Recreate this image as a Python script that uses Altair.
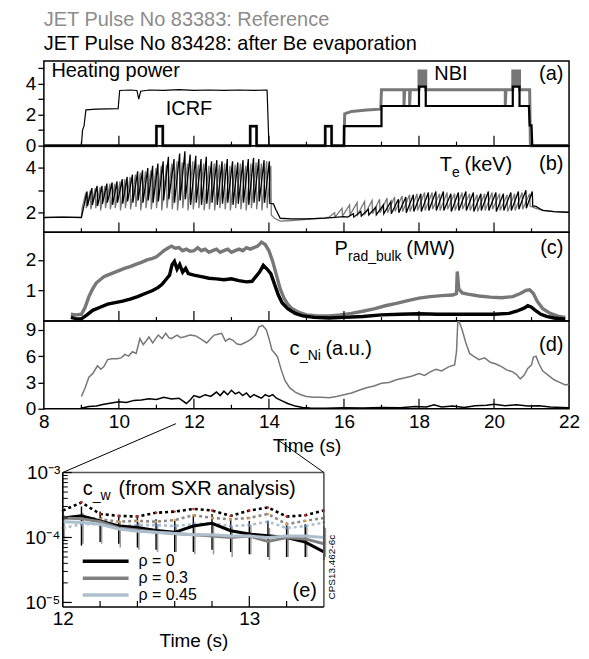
import altair as alt
import pandas as pd

FONT = "Liberation Sans"
GRAY = "#777777"
TITLE_GRAY = "#8c8c8c"
LIGHT = "#adbfcc"

# ---------------- data ----------------
title_ref = "JET Pulse No 83383: Reference"
title_be = "JET Pulse No 83428: after Be evaporation"

x_labels = [8, 10, 12, 14, 16, 18, 20, 22]
x_ticks_major = [10, 12, 14, 16, 18, 20]
x_ticks_minor = [9, 11, 13, 15, 17, 19, 21]

# (a) heating power (MW)
icrf = [(8.0, 0.0), (9.0, 0.0), (9.03, 1.0), (9.07, 1.25), (9.12, 2.3), (9.4, 2.35), (9.98, 2.38),
        (10.02, 3.55), (10.3, 3.58), (10.48, 3.55), (10.53, 3.0), (10.58, 3.5), (10.8, 3.58),
        (11.2, 3.55), (11.6, 3.6), (12.0, 3.55), (12.4, 3.58), (12.8, 3.55), (13.2, 3.58),
        (13.6, 3.55), (13.95, 3.58), (14.0, 0.0), (22.0, 0.0)]
nbi_be = [(8.0, 0), (11.0, 0), (11.0, 1.25), (11.17, 1.25), (11.17, 0), (13.5, 0), (13.5, 1.25),
          (13.67, 1.25), (13.67, 0), (15.5, 0), (15.5, 1.25), (15.67, 1.25), (15.67, 0), (16.0, 0),
          (16.0, 1.25), (17.0, 1.25), (17.0, 2.55), (18.0, 2.55), (18.0, 3.8), (18.18, 3.8),
          (18.18, 2.55), (20.5, 2.55), (20.5, 3.8), (20.68, 3.8), (20.68, 2.55), (20.93, 2.55),
          (20.95, 1.3), (21.0, 1.3), (21.02, 0), (22.0, 0)]
nbi_ref = [(8.0, 0), (11.0, 0), (11.0, 1.25), (11.17, 1.25), (11.17, 0), (13.5, 0), (13.5, 1.25),
           (13.67, 1.25), (13.67, 0), (15.5, 0), (15.5, 1.25), (15.67, 1.25), (15.67, 0), (16.0, 0),
           (16.02, 2.05), (16.2, 2.2), (16.6, 2.3), (16.98, 2.35), (17.0, 3.6), (17.6, 3.6),
           (17.6, 2.6), (17.62, 3.6), (17.75, 3.6), (17.75, 2.6), (17.77, 3.6), (18.0, 3.6),
           (18.0, 4.8), (18.05, 4.8), (18.05, 3.9), (18.12, 3.9), (18.12, 4.8), (18.18, 4.8),
           (18.18, 3.6), (20.3, 3.6), (20.3, 2.6), (20.32, 3.6), (20.5, 3.6), (20.5, 4.8),
           (20.55, 4.8), (20.55, 3.9), (20.62, 3.9), (20.62, 4.8), (20.68, 4.8), (20.68, 3.6),
           (20.95, 3.6), (20.97, 0), (22.0, 0)]

# (b) Te (keV): sawtooth crash times, values just before and just after each crash
te_be_start = [(8.0, 1.78), (8.5, 1.8), (9.0, 1.78), (9.03, 2.0)]
te_be_crash1 = [9.15, 9.28, 9.42, 9.55, 9.68, 9.82, 9.95, 10.09, 10.22, 10.36, 10.50, 10.63, 10.77,
                10.90, 11.04, 11.18, 11.32, 11.47, 11.62, 11.76, 11.90, 12.05, 12.19, 12.33, 12.47,
                12.61, 12.75, 12.89, 13.03, 13.17, 13.31, 13.45, 13.59, 13.73, 13.87, 14.01]
te_be_peak1 = [2.95, 3.1, 3.2, 3.2, 3.3, 3.35, 3.4, 3.5, 3.6, 3.7, 3.85, 3.9, 4.0, 4.1, 4.2, 4.3,
               4.5, 4.4, 4.65, 4.75, 4.6, 4.55, 4.4, 4.5, 4.3, 4.35, 4.3, 4.4, 4.3, 4.25, 4.35,
               4.4, 4.45, 4.4, 4.35, 4.3]
te_be_trough1 = [2.3, 2.35, 2.3, 2.4, 2.45, 2.35, 2.45, 2.4, 2.5, 2.45, 2.55, 2.45, 2.55, 2.45,
                 2.5, 2.55, 2.6, 2.45, 2.55, 2.6, 2.35, 2.45, 2.35, 2.4, 2.45, 2.35, 2.4, 2.45,
                 2.35, 2.4, 2.45, 2.35, 2.45, 2.5, 2.45, 2.42]
te_be_mid = [(14.12, 2.4), (14.18, 2.15), (14.3, 1.75), (14.6, 1.72), (15.0, 1.72), (15.5, 1.76),
             (16.0, 1.82), (16.1, 1.8)]
te_be_crash2 = [16.25, 16.45, 16.65, 16.85, 17.05, 17.25, 17.45, 17.65, 17.85, 18.05, 18.25, 18.45,
                18.65, 18.85, 19.05, 19.25, 19.45, 19.65, 19.85, 20.05, 20.25, 20.45, 20.65, 20.85,
                21.02]
te_be_peak2 = [1.95, 2.05, 2.15, 2.25, 2.35, 2.5, 2.6, 2.7, 2.8, 2.85, 2.9, 2.95, 2.95, 2.85, 2.9,
               2.95, 2.9, 2.85, 2.95, 2.9, 2.85, 2.9, 2.95, 3.0, 2.95]
te_be_trough2 = [1.8, 1.85, 1.9, 1.9, 1.95, 1.95, 2.0, 2.0, 2.05, 2.05, 2.1, 2.1, 2.1, 2.05, 2.1,
                 2.1, 2.05, 2.1, 2.1, 2.05, 2.1, 2.1, 2.15, 2.2, 2.3]
te_be_end = [(21.12, 2.28), (21.3, 2.1), (21.6, 2.05), (22.0, 2.02)]

te_ref_start = [(8.0, 1.8), (9.0, 1.8), (9.02, 2.2)]
te_ref_crash1 = [9.12, 9.24, 9.37, 9.50, 9.63, 9.76, 9.89, 10.03, 10.16, 10.30, 10.44, 10.57,
                 10.71, 10.85, 10.99, 11.13, 11.27, 11.41, 11.55, 11.69, 11.83, 11.97, 12.12,
                 12.26, 12.40, 12.54, 12.68, 12.82, 12.96, 13.10, 13.24, 13.38, 13.52, 13.66,
                 13.80, 13.94, 14.05]
te_ref_peak1 = [2.9, 3.0, 3.1, 3.15, 3.2, 3.3, 3.3, 3.4, 3.5, 3.6, 3.7, 3.8, 3.85, 3.9, 4.0, 4.1,
                4.15, 4.2, 4.3, 4.25, 4.2, 4.3, 4.15, 4.2, 4.1, 4.2, 4.15, 4.2, 4.1, 4.15, 4.2,
                4.1, 4.2, 4.25, 4.2, 4.3, 4.1]
te_ref_trough1 = [2.2, 2.15, 2.2, 2.1, 2.2, 2.15, 2.2, 2.1, 2.2, 2.15, 2.25, 2.1, 2.2, 2.15, 2.2,
                  2.1, 2.2, 2.15, 2.1, 2.2, 2.1, 2.15, 2.2, 2.1, 2.15, 2.1, 2.2, 2.15, 2.1, 2.2,
                  2.15, 2.1, 2.2, 2.15, 2.1, 2.2, 1.9]
te_ref_mid = [(14.15, 1.75), (14.3, 1.62), (14.6, 1.65), (15.0, 1.7), (15.4, 1.75), (15.6, 1.8)]
te_ref_crash2 = [15.75, 15.95, 16.15, 16.35, 16.55, 16.75, 16.95, 17.15, 17.35, 17.55, 17.75,
                 17.95, 18.15, 18.35, 18.55, 18.75, 18.95, 19.15, 19.35, 19.55, 19.75, 19.95,
                 20.15, 20.35, 20.55, 20.75, 20.95]
te_ref_peak2 = [2.0, 2.2, 2.35, 2.45, 2.5, 2.55, 2.6, 2.65, 2.7, 2.75, 2.8, 2.85, 2.9, 2.9, 2.85,
                2.9, 2.85, 2.9, 2.85, 2.8, 2.85, 2.9, 2.85, 2.8, 2.85, 2.9, 2.85]
te_ref_trough2 = [1.8, 1.85, 1.9, 1.9, 1.95, 1.95, 2.0, 2.0, 2.05, 2.05, 2.05, 2.1, 2.1, 2.15,
                  2.1, 2.15, 2.1, 2.15, 2.1, 2.05, 2.1, 2.15, 2.1, 2.05, 2.1, 2.15, 2.3]
te_ref_end = [(21.1, 2.2), (21.3, 2.1), (21.6, 2.05), (22.0, 2.0)]

# (c) Prad_bulk (MW)
prad_ref = [(8.72, 0.22), (8.85, 0.2), (9.0, 0.22), (9.1, 0.45), (9.2, 0.8), (9.3, 1.05),
            (9.4, 1.25), (9.5, 1.35), (9.6, 1.45), (9.7, 1.5), (9.8, 1.55), (9.9, 1.6), (10.0, 1.65),
            (10.15, 1.72), (10.3, 1.78), (10.45, 1.85), (10.6, 1.92), (10.75, 2.0), (10.9, 2.05),
            (11.0, 2.1), (11.1, 2.2), (11.2, 2.3), (11.3, 2.38), (11.4, 2.45), (11.5, 2.38),
            (11.6, 2.4), (11.7, 2.3), (11.8, 2.35), (11.9, 2.28), (12.0, 2.3), (12.1, 2.4),
            (12.2, 2.3), (12.3, 2.35), (12.4, 2.25), (12.5, 2.3), (12.6, 2.35), (12.7, 2.25),
            (12.8, 2.3), (12.9, 2.35), (13.0, 2.25), (13.1, 2.3), (13.2, 2.35), (13.3, 2.3),
            (13.4, 2.4), (13.5, 2.35), (13.6, 2.4), (13.7, 2.45), (13.8, 2.58), (13.9, 2.5),
            (14.0, 2.3), (14.1, 1.95), (14.2, 1.5), (14.3, 1.05), (14.4, 0.75), (14.5, 0.55),
            (14.6, 0.42), (14.8, 0.28), (15.0, 0.2), (15.3, 0.17), (15.6, 0.17), (15.9, 0.2),
            (16.2, 0.25), (16.5, 0.32), (16.8, 0.4), (17.1, 0.5), (17.4, 0.58), (17.7, 0.67),
            (18.0, 0.75), (18.3, 0.8), (18.6, 0.83), (18.9, 0.85), (19.0, 0.9), (19.02, 1.62),
            (19.06, 1.05), (19.15, 0.92), (19.3, 0.88), (19.6, 0.82), (19.9, 0.78), (20.2, 0.76),
            (20.5, 0.8), (20.7, 0.9), (20.85, 1.0), (20.95, 1.02), (21.05, 0.9), (21.15, 0.65),
            (21.3, 0.4), (21.5, 0.25), (21.7, 0.16), (21.9, 0.12)]
prad_be = [(8.72, 0.12), (8.85, 0.08), (9.0, 0.07), (9.15, 0.2), (9.3, 0.35), (9.5, 0.45),
           (9.7, 0.55), (9.9, 0.6), (10.1, 0.65), (10.3, 0.72), (10.5, 0.8), (10.7, 0.9),
           (10.9, 1.0), (11.05, 1.1), (11.15, 1.2), (11.25, 1.35), (11.35, 1.5), (11.42, 1.85),
           (11.48, 1.95), (11.55, 1.7), (11.62, 1.85), (11.7, 1.6), (11.78, 1.72), (11.85, 1.55),
           (12.0, 1.5), (12.2, 1.45), (12.4, 1.4), (12.6, 1.38), (12.8, 1.35), (13.0, 1.38),
           (13.2, 1.32), (13.4, 1.28), (13.55, 1.3), (13.65, 1.45), (13.75, 1.6), (13.85, 1.82),
           (13.95, 1.7), (14.05, 1.55), (14.15, 1.2), (14.25, 0.85), (14.35, 0.6), (14.5, 0.4),
           (14.7, 0.25), (14.9, 0.17), (15.2, 0.12), (15.6, 0.1), (16.0, 0.12), (16.5, 0.15),
           (17.0, 0.2), (17.5, 0.22), (18.0, 0.24), (18.5, 0.22), (19.0, 0.22), (19.5, 0.22),
           (20.0, 0.22), (20.4, 0.25), (20.6, 0.32), (20.8, 0.42), (20.9, 0.5), (21.0, 0.45),
           (21.1, 0.35), (21.25, 0.22), (21.4, 0.15), (21.6, 0.1), (21.9, 0.06)]

# (d) c_Ni (a.u.)
cni_ref = [(9.0, 1.4), (9.1, 2.4), (9.2, 3.6), (9.3, 4.0), (9.43, 4.9), (9.52, 4.5), (9.6, 4.8),
           (9.7, 5.6), (9.81, 5.7), (9.95, 5.7), (10.06, 5.8), (10.16, 6.2), (10.26, 6.0),
           (10.36, 6.5), (10.46, 6.3), (10.56, 8.0), (10.65, 7.3), (10.72, 7.7), (10.8, 8.2),
           (10.9, 7.5), (10.98, 8.0), (11.05, 8.4), (11.15, 8.0), (11.25, 8.6), (11.33, 8.1),
           (11.4, 8.0), (11.55, 8.4), (11.65, 8.1), (11.75, 8.2), (11.9, 8.4), (12.05, 8.3),
           (12.2, 7.9), (12.34, 7.5), (12.45, 8.0), (12.54, 8.4), (12.64, 8.5), (12.74, 8.6),
           (12.84, 7.7), (12.94, 8.0), (13.04, 7.8), (13.14, 7.4), (13.24, 7.3), (13.34, 7.5),
           (13.44, 7.7), (13.54, 8.0), (13.64, 8.4), (13.73, 9.3), (13.83, 9.5), (13.93, 9.0),
           (14.0, 8.0), (14.08, 6.7), (14.16, 6.3), (14.23, 5.9), (14.33, 4.4), (14.43, 3.2),
           (14.55, 2.4), (14.7, 1.9), (14.85, 1.6), (15.0, 1.4), (15.2, 1.3), (15.4, 1.3),
           (15.6, 1.25), (15.8, 1.4), (16.0, 1.6), (16.2, 1.8), (16.4, 2.1), (16.6, 2.4),
           (16.8, 2.6), (17.0, 2.9), (17.2, 3.0), (17.4, 3.3), (17.6, 3.5), (17.8, 3.7),
           (18.0, 4.0), (18.15, 3.8), (18.3, 4.2), (18.45, 4.5), (18.6, 4.3), (18.8, 4.8),
           (18.95, 5.0), (19.0, 6.5), (19.04, 10.5), (19.08, 9.8), (19.15, 9.0), (19.25, 7.5),
           (19.35, 6.3), (19.45, 6.0), (19.6, 5.6), (19.75, 5.8), (19.9, 5.3), (20.05, 5.1),
           (20.2, 4.8), (20.35, 4.4), (20.5, 4.2), (20.6, 3.9), (20.7, 3.4), (20.8, 3.8),
           (20.9, 4.6), (21.0, 5.0), (21.05, 5.9), (21.12, 6.0), (21.2, 5.1), (21.3, 4.3),
           (21.45, 3.8), (21.6, 3.3), (21.75, 3.0), (21.9, 2.7), (22.0, 2.8)]
cni_be = [(8.98, 0.05), (9.2, 0.25), (9.4, 0.3), (9.6, 0.5), (9.8, 0.65), (10.0, 0.8), (10.2, 0.7),
          (10.4, 0.95), (10.6, 1.0), (10.8, 1.15), (11.0, 1.05), (11.2, 1.3), (11.4, 1.1),
          (11.6, 1.2), (11.8, 0.6), (11.9, 1.0), (12.0, 1.5), (12.15, 1.3), (12.3, 1.6),
          (12.45, 1.4), (12.6, 1.9), (12.7, 1.5), (12.8, 2.0), (12.9, 1.6), (13.0, 2.1),
          (13.1, 1.7), (13.2, 1.9), (13.3, 1.5), (13.4, 1.8), (13.5, 1.3), (13.6, 1.6),
          (13.7, 1.4), (13.8, 1.2), (13.9, 1.6), (14.0, 1.4), (14.1, 1.6), (14.2, 1.2),
          (14.35, 0.9), (14.5, 0.6), (14.7, 0.3), (14.9, 0.15), (15.1, 0.08), (15.5, 0.05),
          (16.0, 0.1), (16.5, 0.08), (17.0, 0.15), (17.5, 0.12), (17.9, 0.25), (18.2, 0.2),
          (18.4, 0.45), (18.6, 0.2), (18.9, 0.3), (19.2, 0.15), (19.5, 0.35), (19.8, 0.4),
          (20.0, 0.5), (20.3, 0.35), (20.6, 0.45), (20.9, 0.3), (21.2, 0.35), (21.5, 0.2),
          (21.8, 0.15), (22.0, 0.1)]

# (e) c_W from SXR analysis
cw_t = [12.0, 12.1, 12.2, 12.3, 12.4, 12.5, 12.6, 12.7, 12.8, 12.9, 13.0, 13.1, 13.2, 13.3, 13.4]
cw_rho0 = [2.0e-4, 2.15e-4, 1.8e-4, 1.5e-4, 1.42e-4, 1.28e-4, 1.2e-4, 1.5e-4, 1.65e-4, 1.27e-4,
           1.13e-4, 1.06e-4, 1.0e-4, 0.85e-4, 0.6e-4]
cw_rho03 = [2.0e-4, 1.95e-4, 1.75e-4, 1.4e-4, 1.3e-4, 1.2e-4, 1.15e-4, 1.1e-4, 1.05e-4, 1.0e-4,
            1.05e-4, 0.87e-4, 1.0e-4, 0.95e-4, 0.8e-4]
cw_rho045 = [1.75e-4, 1.7e-4, 1.6e-4, 1.35e-4, 1.25e-4, 1.2e-4, 1.15e-4, 1.1e-4, 1.1e-4, 1.05e-4,
             1.05e-4, 1.0e-4, 1.05e-4, 1.05e-4, 1.0e-4]
cw_rho0_dot = [2.6e-4, 3.45e-4, 2.3e-4, 2.15e-4, 2.1e-4, 2.4e-4, 2.5e-4, 2.75e-4, 2.6e-4, 2.15e-4,
               2.6e-4, 2.9e-4, 2.1e-4, 2.2e-4, 2.6e-4]
cw_rho03_dot = [2.0e-4, 2.1e-4, 1.9e-4, 1.75e-4, 1.8e-4, 1.75e-4, 1.85e-4, 2.2e-4, 2.0e-4, 1.9e-4,
                2.0e-4, 2.3e-4, 1.6e-4, 1.8e-4, 2.0e-4]
cw_rho045_dot = [1.4e-4, 1.6e-4, 1.6e-4, 1.5e-4, 1.55e-4, 1.55e-4, 1.5e-4, 1.6e-4, 1.65e-4, 1.5e-4,
                 1.55e-4, 1.75e-4, 1.4e-4, 1.5e-4, 1.7e-4]
cw_err_lo = [1.0e-4, 0.75e-4, 0.85e-4, 0.8e-4, 0.7e-4, 0.65e-4, 0.6e-4, 0.6e-4, 0.65e-4, 0.6e-4,
             0.55e-4, 0.5e-4, 0.5e-4, 0.5e-4, 0.45e-4]
cw_err_hi = [2.6e-4, 3.0e-4, 2.5e-4, 2.1e-4, 2.0e-4, 1.9e-4, 1.8e-4, 2.2e-4, 2.3e-4, 1.9e-4,
             1.8e-4, 1.7e-4, 1.7e-4, 1.6e-4, 1.5e-4]
cw_err2_lo = [0.9e-4, 0.8e-4, 0.8e-4, 0.7e-4, 0.65e-4, 0.6e-4, 0.6e-4, 0.55e-4, 0.55e-4, 0.5e-4,
              0.55e-4, 0.45e-4, 0.5e-4, 0.5e-4, 0.5e-4]
cw_err2_hi = [2.2e-4, 2.4e-4, 2.1e-4, 1.8e-4, 1.7e-4, 1.6e-4, 1.6e-4, 1.7e-4, 1.6e-4, 1.5e-4,
              1.55e-4, 1.4e-4, 1.5e-4, 1.45e-4, 1.4e-4]
cw_log_ticks = [1e-5, 2e-5, 3e-5, 4e-5, 5e-5, 6e-5, 7e-5, 8e-5, 9e-5,
                1e-4, 2e-4, 3e-4, 4e-4, 5e-4, 6e-4, 7e-4, 8e-4, 9e-4, 1e-3]
cw_decades = [1e-5, 1e-4, 1e-3]
cw_x_labels = [12, 13]
cw_x_ticks_minor = [12.2, 12.4, 12.6, 12.8, 13.2]
cw_x_ticks_major = [13.0]
rho_labels = ["ρ = 0", "ρ = 0.3", "ρ = 0.45"]
cps_label = "CPS13.462-6c"

# ---------------- layout (pixels) ----------------
W = 527
H_A, H_B, H_C, H_D = 85, 87, 89, 88
MAIN_LEFT = 43
MAIN_BOTTOM_Y = 59 + H_A + H_B + H_C + H_D      # page y of the bottom of panel (d)
INSET_L, INSET_R = 19, 281                      # inset frame inside the inset view
INSET_T, INSET_B = 64, 199
WI_VIEW, HI_VIEW = 281, 199


def sawtooth(start, crash, peaks, troughs, after):
    pts = list(start)
    for t, p, tr in zip(crash, peaks, troughs):
        pts.append((t, p))
        pts.append((t + 0.012, tr))
    return pts + list(after)


te_be = sawtooth(te_be_start, te_be_crash1, te_be_peak1, te_be_trough1, [])
te_be = sawtooth(te_be + te_be_mid, te_be_crash2, te_be_peak2, te_be_trough2, te_be_end)
te_ref = sawtooth(te_ref_start, te_ref_crash1, te_ref_peak1, te_ref_trough1, [])
te_ref = sawtooth(te_ref + te_ref_mid, te_ref_crash2, te_ref_peak2, te_ref_trough2, te_ref_end)


def pairs_df(pairs):
    return pd.DataFrame({"t": [p[0] for p in pairs], "v": [p[1] for p in pairs],
                         "i": list(range(len(pairs)))})


xscale = alt.Scale(domain=[8, 22], nice=False, zero=False)


def y_axis(vals, labelled):
    return alt.Axis(values=vals, labelExpr=f"indexof({labelled}, datum.value) >= 0 ? datum.label : ''",
                    tickSize=6, tickWidth=1.3, tickColor="black", labelFontSize=19, labelPadding=2,
                    labelColor="black", domain=False, grid=False, title=None, labelOverlap=False,
                    minExtent=35, maxExtent=35, labelFont=FONT)


def make_panel(height, ydom, yvals, ylabelled, series, texts, bottom=False):
    ys = alt.Scale(domain=ydom, nice=False, zero=False)
    if bottom:
        xax = alt.Axis(values=x_labels, ticks=False, domain=False, grid=False, labelFontSize=19,
                       labelPadding=4, labelFlush=False, labelOverlap=False, labelColor="black",
                       title="Time (s)", titleFontSize=19, titleFontWeight="normal", titlePadding=5,
                       titleColor="black", labelFont=FONT, titleFont=FONT)
    else:
        xax = None
    X = alt.X("t:Q", scale=xscale, axis=xax)
    Y = alt.Y("v:Q", scale=ys, axis=y_axis(yvals, ylabelled))
    layers = []
    for pairs, color, width, clip in series:
        layers.append(alt.Chart(pairs_df(pairs)).mark_line(color=color, strokeWidth=width, clip=clip)
                      .encode(x=X, y=Y, order="i:Q"))
    tdf_major = pd.DataFrame({"t": x_ticks_major})
    tdf_minor = pd.DataFrame({"t": x_ticks_minor})
    layers.append(alt.Chart(tdf_major).mark_rule(color="black", strokeWidth=1.2)
                  .encode(x=X, y=alt.value(height), y2=alt.value(height - 10)))
    layers.append(alt.Chart(tdf_minor).mark_rule(color="black", strokeWidth=1.2)
                  .encode(x=X, y=alt.value(height), y2=alt.value(height - 4)))
    for txt, t, v, align, dx, dy, size in texts:
        d = pd.DataFrame({"t": [t], "v": [v], "s": [txt]})
        layers.append(alt.Chart(d).mark_text(align=align, baseline="alphabetic", dx=dx, dy=dy,
                                             fontSize=size, color="black", font=FONT)
                      .encode(x=X, y=Y, text="s:N"))
    return alt.layer(*layers).properties(width=W, height=height)


panel_a = make_panel(
    H_A, [0, 5.45], [0, 1, 2, 3, 4, 5], [0, 2, 4],
    [(nbi_ref, GRAY, 3, False), (nbi_be, "black", 2.2, False), (icrf, "black", 1.2, False)],
    [("Heating power", 8.2, 4.43, "left", 0, 0, 20), ("ICRF", 11.87, 2.0, "center", 0, 0, 20),
     ("NBI", 18.85, 4.25, "center", 0, 0, 20), ("(a)", 21.85, 4.25, "right", 0, 0, 20)],
).properties(title=alt.TitleParams(text=title_ref, subtitle=title_be, anchor="start",
                                   color=TITLE_GRAY, subtitleColor="black", fontSize=20,
                                   subtitleFontSize=20, font=FONT, subtitleFont=FONT,
                                   fontWeight="normal", subtitleFontWeight="normal",
                                   subtitlePadding=4, offset=5, frame="group"))

panel_b = make_panel(
    H_B, [1.12, 5.0], [2, 3, 4], [2, 4],
    [(te_ref, GRAY, 1.3, False), (te_be, "black", 1.3, False)],
    [("T", 18.55, 3.85, "left", 0, 0, 20), ("e", 18.55, 3.85, "left", 12.5, 6, 14),
     ("(keV)", 18.55, 3.85, "left", 25, 0, 20), ("(b)", 21.85, 3.9, "right", 0, 0, 20)],
)

panel_c = make_panel(
    H_C, [0, 2.9], [1, 2], [1, 2],
    [(prad_ref, GRAY, 3.4, False), (prad_be, "black", 3.4, False)],
    [("P", 15.75, 2.15, "left", 0, 0, 20), ("rad_bulk", 15.75, 2.15, "left", 13.5, 6, 14),
     ("(MW)", 15.75, 2.15, "left", 72, 0, 20), ("(c)", 21.85, 2.18, "right", 0, 0, 20)],
)

panel_d = make_panel(
    H_D, [0, 10], [0, 3, 6, 9], [0, 3, 6, 9],
    [(cni_ref, GRAY, 1.5, True), (cni_be, "black", 1.5, False)],
    [("c", 14.55, 6.1, "left", 0, 0, 20), ("_Ni", 14.55, 6.1, "left", 10.5, 5, 14),
     ("(a.u.)", 14.55, 6.1, "left", 36, 0, 20), ("(d)", 21.85, 6.6, "right", 0, 0, 20)],
    bottom=True,
)

# ---------------- inset (e) ----------------
xs_i = alt.Scale(domain=[12, 13.4], range=[INSET_L, INSET_R], nice=False, zero=False)
ys_i = alt.Scale(type="log", domain=[8.5e-6, 1e-3], range=[INSET_B, INSET_T], nice=False)
log_label = ("abs(log(datum.value)/LN10 + 3) < 0.01 ? '10⁻³' : "
             "abs(log(datum.value)/LN10 + 4) < 0.01 ? '10⁻⁴' : "
             "abs(log(datum.value)/LN10 + 5) < 0.01 ? '10⁻⁵' : ''")
XI = alt.X("t:Q", scale=xs_i, axis=alt.Axis(values=cw_x_labels, format="d", ticks=False,
                                           domain=False, grid=False,
                                           labelFontSize=19, labelPadding=3, labelFlush=False,
                                           labelColor="black", title="Time (s)", titleFontSize=19,
                                           titleFontWeight="normal", titlePadding=3,
                                           titleColor="black", labelFont=FONT, titleFont=FONT))
YI = alt.Y("v:Q", scale=ys_i, axis=alt.Axis(values=cw_log_ticks, labelExpr=log_label, ticks=False,
                                           domain=False, grid=False, labelFontSize=19,
                                           labelPadding=3, labelColor="black", title=None,
                                           labelOverlap=False, offset=-INSET_L, labelFont=FONT))


def cw_df(vals, shift=0.0):
    return pd.DataFrame({"t": [t + shift for t in cw_t], "v": vals})


one = pd.DataFrame({"k": [0]})
inset_layers = []
inset_layers.append(alt.Chart(pd.DataFrame({"t": [t + 0.008 for t in cw_t], "v": cw_err2_lo,
                                            "v2": cw_err2_hi}))
                    .mark_rule(color="#9a9a9a", strokeWidth=1.6)
                    .encode(x=XI, y=YI, y2="v2:Q"))
inset_layers.append(alt.Chart(pd.DataFrame({"t": cw_t, "v": cw_err_lo, "v2": cw_err_hi}))
                    .mark_rule(color="black", strokeWidth=1.4)
                    .encode(x=XI, y=YI, y2="v2:Q"))
for vals, color in [(cw_rho045_dot, LIGHT), (cw_rho03_dot, "#8a8a8a"), (cw_rho0_dot, "black")]:
    inset_layers.append(alt.Chart(cw_df(vals)).mark_line(color=color, strokeWidth=2.6,
                                                           strokeDash=[3, 3])
                        .encode(x=XI, y=YI))
for vals, color in [(cw_rho045_dot, "#4a78b5"), (cw_rho03_dot, "#e69a3a"), (cw_rho0_dot, "#d62728")]:
    inset_layers.append(alt.Chart(cw_df(vals)).mark_circle(color=color, size=6, opacity=1)
                        .encode(x=XI, y=YI))
for vals, color in [(cw_rho0, "black"), (cw_rho03, "#808080"), (cw_rho045, LIGHT)]:
    inset_layers.append(alt.Chart(cw_df(vals)).mark_line(color=color, strokeWidth=3)
                        .encode(x=XI, y=YI))
# frame of the inset
for x1, y1, x2, y2, col in [(INSET_L, INSET_T, INSET_R, INSET_T, "#555555"),
                            (INSET_R, INSET_T, INSET_R, INSET_B, "#555555"),
                            (INSET_L, INSET_B, INSET_R, INSET_B, "black"),
                            (INSET_L, INSET_T, INSET_L, INSET_B, "black")]:
    inset_layers.append(alt.Chart(one).mark_rule(color=col, strokeWidth=1.6).encode(
        x=alt.value(x1), y=alt.value(y1), x2=alt.value(x2), y2=alt.value(y2)))
# inward ticks
inset_layers.append(alt.Chart(pd.DataFrame({"t": cw_x_ticks_minor})).mark_rule(color="black", strokeWidth=1.2)
                    .encode(x=XI, y=alt.value(INSET_B), y2=alt.value(INSET_B - 6)))
inset_layers.append(alt.Chart(pd.DataFrame({"t": cw_x_ticks_major})).mark_rule(color="black", strokeWidth=1.2)
                    .encode(x=XI, y=alt.value(INSET_B), y2=alt.value(INSET_B - 11)))
inset_layers.append(alt.Chart(pd.DataFrame({"v": cw_log_ticks})).mark_rule(color="black", strokeWidth=1)
                    .encode(y=YI, x=alt.value(INSET_L), x2=alt.value(INSET_L + 5)))
inset_layers.append(alt.Chart(pd.DataFrame({"v": cw_decades})).mark_rule(color="black", strokeWidth=1.2)
                    .encode(y=YI, x=alt.value(INSET_L), x2=alt.value(INSET_L + 9)))
# inset heading
for txt, px, py, size in [("c", 39, 87, 20), ("_w", 49, 92, 14), ("(from SXR analysis)", 75, 87, 20)]:
    inset_layers.append(alt.Chart(one).mark_text(text=txt, align="left", baseline="alphabetic",
                                                 fontSize=size, color="black", font=FONT)
                        .encode(x=alt.value(px), y=alt.value(py)))
inset_layers.append(alt.Chart(one).mark_text(text="(e)", align="right", baseline="alphabetic",
                                             fontSize=20, color="black", font=FONT)
                    .encode(x=alt.value(INSET_R - 7), y=alt.value(INSET_B - 10)))
inset_layers.append(alt.Chart(one).mark_text(text=cps_label, angle=270, align="center",
                                             baseline="middle", fontSize=10, color="black", font=FONT)
                    .encode(x=alt.value(INSET_R + 8), y=alt.value(INSET_B - 40)))
# legend
for k, (lab, color) in enumerate(zip(rho_labels, ["black", "#808080", LIGHT])):
    yy = 153 + 17 * k
    inset_layers.append(alt.Chart(one).mark_rule(color=color, strokeWidth=3.5)
                        .encode(x=alt.value(39), x2=alt.value(85), y=alt.value(yy)))
    inset_layers.append(alt.Chart(one).mark_text(text=lab, align="left", baseline="middle",
                                                 fontSize=16, color="black", font=FONT)
                        .encode(x=alt.value(95), y=alt.value(yy)))
# zoom connectors from the main time axis (12 s and 14 s) to the inset corners
start1 = (175.5 - MAIN_LEFT, 423.0 - MAIN_BOTTOM_Y)
start2 = (277.4 - MAIN_LEFT, 439.0 - MAIN_BOTTOM_Y)
for (sx, sy), (cx, cy) in [(start1, (INSET_L, INSET_T)), (start2, (INSET_R, INSET_T))]:
    inset_layers.append(alt.Chart(one).mark_rule(color="black", strokeWidth=1, clip=False).encode(
        x=alt.value(sx), y=alt.value(sy), x2=alt.value(cx), y2=alt.value(cy)))

inset = alt.layer(*inset_layers).properties(width=WI_VIEW, height=HI_VIEW,
                                            view=alt.ViewBackground(stroke="transparent"))

chart = alt.vconcat(panel_a, panel_b, panel_c, panel_d, inset, spacing=0, bounds="flush").resolve_scale(
    x="independent", y="independent"
).properties(padding=0).configure_view(stroke="black", strokeWidth=1.5).configure_axis(
    labelFont=FONT, titleFont=FONT).configure_text(font=FONT).configure_title(font=FONT)

chart.save("out.html", embed_options={"renderer": "svg", "actions": False})
